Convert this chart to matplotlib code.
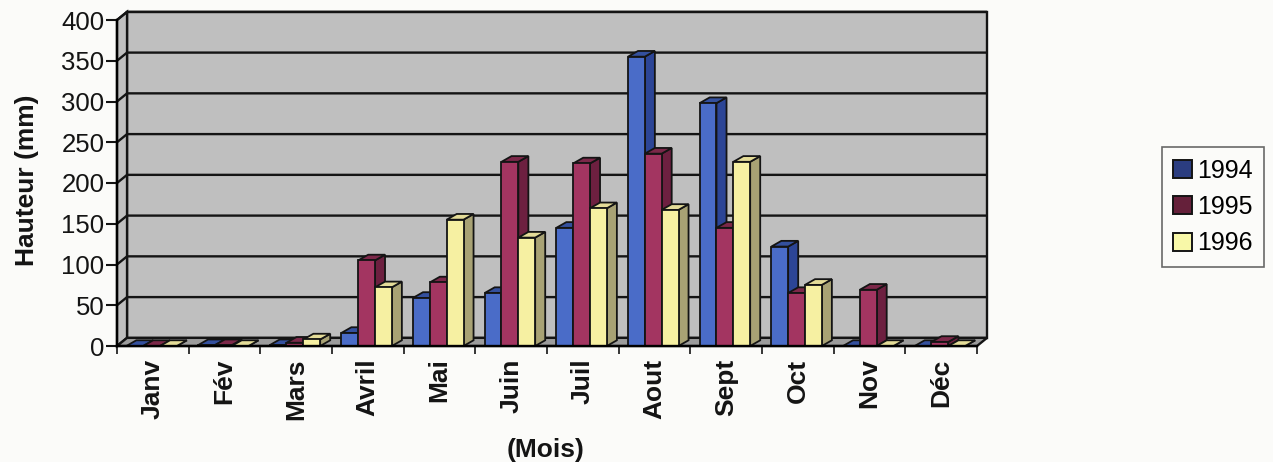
import matplotlib
matplotlib.use("Agg")
import matplotlib.pyplot as plt
from matplotlib.patches import Polygon, Patch

plt.rcParams['font.family'] = ['Liberation Sans', 'DejaVu Sans']

# monthly rainfall (mm)
mois = ['Janv', 'Fév', 'Mars', 'Avril', 'Mai', 'Juin', 'Juil', 'Aout', 'Sept', 'Oct', 'Nov', 'Déc']
annees = ['1994', '1995', '1996']
pluie_1994 = [0, 1, 1, 16, 59, 65, 145, 355, 298, 122, 0, 0]
pluie_1995 = [0, 1, 4, 105, 78, 226, 224, 236, 145, 65, 69, 5]
pluie_1996 = [0, 0, 8, 72, 155, 133, 169, 167, 226, 75, 0, 0]
yticks = [0, 50, 100, 150, 200, 250, 300, 350, 400]

# front / side / top face colours for each series, plus the legend swatch
couleurs = [
    ('#4a6cc8', '#2c4596', '#34509e', '#2b3d80'),
    ('#a33561', '#6d2040', '#7c2849', '#65203a'),
    ('#f6f0a2', '#a8a274', '#e4dc98', '#f8f8a8'),
]

# depth of the wall and of the bars, in data units
DX, DY = 0.14, 10
BDX, BDY = 0.14, 7
WALL = '#bfbfbf'
FLOOR = '#9c9c9c'
LINE = '#141414'


def poly(ax, pts, fc, z, lw=1.3):
    ax.add_patch(Polygon(pts, closed=True, facecolor=fc, edgecolor=LINE,
                         linewidth=lw, zorder=z, clip_on=False))


def draw_bar(ax, x0, w, v, faces, z):
    front, side, top = faces[:3]
    poly(ax, [(x0 + w, 0), (x0 + w + BDX, BDY), (x0 + w + BDX, v + BDY), (x0 + w, v)], side, z)
    poly(ax, [(x0, v), (x0 + w, v), (x0 + w + BDX, v + BDY), (x0 + BDX, v + BDY)], top, z)
    poly(ax, [(x0, 0), (x0 + w, 0), (x0 + w, v), (x0, v)], front, z)


fig = plt.figure(figsize=(12.73, 4.62), dpi=100, facecolor='#fbfbf9')
ax = fig.add_axes([117 / 1273, 116 / 462, 860 / 1273, 326 / 462])
ax.set_facecolor('none')
n = len(mois)
ax.set_xlim(0, n)
ax.set_ylim(0, 400)

# walls and floor
poly(ax, [(DX, DY), (n + DX, DY), (n + DX, 400 + DY), (DX, 400 + DY)], WALL, 0, lw=1.7)
poly(ax, [(0, 0), (DX, DY), (DX, 400 + DY), (0, 400)], WALL, 0, lw=1.7)
poly(ax, [(0, 0), (n, 0), (n + DX, DY), (DX, DY)], FLOOR, 0.5, lw=1.7)
for v in yticks[1:]:
    ax.plot([0, DX, n + DX], [v, v + DY, v + DY], color=LINE, lw=1.7,
            zorder=1, clip_on=False, solid_capstyle='butt')

# bars
series = [pluie_1994, pluie_1995, pluie_1996]
w = 0.235
for i in range(n):
    for k, vals in enumerate(series):
        x0 = i + 0.13 + k * w
        draw_bar(ax, x0, w, vals[i], couleurs[k], 3 + i * 3 + k)

# axes, ticks and labels
for s in ['top', 'right']:
    ax.spines[s].set_visible(False)
ax.spines['left'].set_linewidth(1.7)
ax.spines['bottom'].set_linewidth(1.7)
ax.spines['left'].set_zorder(60)
ax.spines['bottom'].set_zorder(60)
ax.set_yticks(yticks)
ax.set_yticklabels([str(t) for t in yticks], fontsize=18.5)
ax.tick_params(axis='y', length=8, width=1.5, pad=1, colors=LINE)
ax.set_xticks(range(n + 1))
ax.set_xticklabels([])
ax.tick_params(axis='x', which='major', length=6, width=1.2, colors=LINE)
ax.set_xticks([i + 0.5 for i in range(n)], minor=True)
ax.set_xticklabels(mois, minor=True, rotation=90, fontsize=19, fontweight='bold')
ax.tick_params(axis='x', which='minor', length=0, pad=9, colors=LINE)

fig.text(27 / 1273, 1 - 180 / 462, 'Hauteur (mm)', rotation=90, ha='center', va='center',
         fontsize=19, fontweight='bold', color=LINE)
fig.text(546 / 1273, 1 - 450 / 462, '(Mois)', ha='center', va='center',
         fontsize=19, fontweight='bold', color=LINE)

handles = [Patch(facecolor=c[3], edgecolor=LINE, linewidth=1.4) for c in couleurs]
leg = fig.legend(handles, annees, loc='center', bbox_to_anchor=(1213 / 1273, 1 - 207 / 462),
                 fontsize=18, frameon=True, fancybox=False, handlelength=0.75,
                 handleheight=0.75, handletextpad=0.2, labelspacing=0.5, borderpad=0.45,
                 borderaxespad=0)
leg.get_frame().set_edgecolor('#444444')
leg.get_frame().set_linewidth(1.2)
leg.get_frame().set_facecolor('#fbfbf9')

fig.savefig('out.png', dpi=100, facecolor=fig.get_facecolor())
